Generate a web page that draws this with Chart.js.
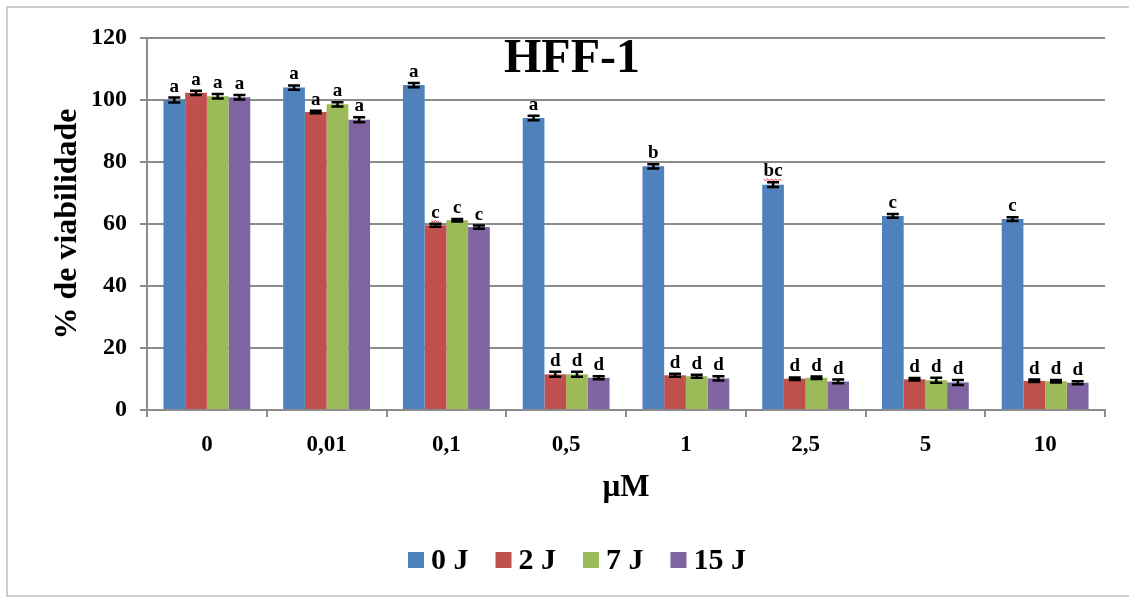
<!DOCTYPE html>
<html>
<head>
<meta charset="utf-8">
<script src="https://cdn.jsdelivr.net/npm/chart.js@4"></script>
<style>
  html, body { margin: 0; padding: 0; background: #fff; }
  #wrap { width: 1129px; height: 599px; position: relative; }
</style>
</head>
<body>
<div id="wrap"><canvas id="myChart"></canvas></div>
<script>
// data
var doses = ['0', '0,01', '0,1', '0,5', '1', '2,5', '5', '10'];
var seriesNames = ['0 J', '2 J', '7 J', '15 J'];
var j0 = [100, 104, 104.8, 94.2, 78.6, 72.7, 62.6, 61.6];
var j2 = [102.3, 96.1, 59.6, 11.5, 11.2, 10.1, 9.9, 9.4];
var j7 = [101.2, 98.6, 61.2, 11.5, 10.9, 10.4, 9.6, 9.3];
var j15 = [100.9, 93.6, 59, 10.4, 10.2, 9.2, 8.9, 8.8];
var err0 = [0.8, 0.7, 0.7, 0.7, 0.7, 0.8, 0.6, 0.6];
var err2 = [0.7, 0.4, 0.5, 0.8, 0.5, 0.4, 0.4, 0.4];
var err7 = [0.7, 0.7, 0.4, 0.8, 0.5, 0.4, 0.8, 0.4];
var err15 = [0.7, 0.8, 0.5, 0.5, 0.7, 0.6, 0.8, 0.5];
var letters0 = ['a', 'a', 'a', 'a', 'b', 'bc', 'c', 'c'];
var letters2 = ['a', 'a', 'c', 'd', 'd', 'd', 'd', 'd'];
var letters7 = ['a', 'a', 'c', 'd', 'd', 'd', 'd', 'd'];
var letters15 = ['a', 'a', 'c', 'd', 'd', 'd', 'd', 'd'];
// letters that carry the red spell-check squiggle: [series, category]
var squiggled = [[0, 5], [1, 2]];
var yTicks = [0, 20, 40, 60, 80, 100, 120];

var colors = ['#4F81BD', '#C0504D', '#9BBB59', '#8064A2'];
var values = [j0, j2, j7, j15];
var errors = [err0, err2, err7, err15];
var letters = [letters0, letters2, letters7, letters15];
var serif = '"Liberation Serif", "Times New Roman", serif';

var datasets = seriesNames.map(function (name, i) {
    return {
        label: name,
        data: values[i],
        backgroundColor: colors[i],
        borderWidth: 0,
        errors: errors[i],
        letters: letters[i],
        categoryPercentage: 0.725,
        barPercentage: 1.0
    };
});

function isSquiggled(i, k) {
    return squiggled.some(function (s) { return s[0] == i && s[1] == k; });
}

// outer frame, title inside the plot, error bars, letters and legend
var extras = {
    id: 'extras',
    beforeDraw: function (chart) {
        var c = chart.ctx;
        c.save();
        c.fillStyle = '#fff';
        c.fillRect(0, 0, chart.width, chart.height);
        c.strokeStyle = '#bdbdbd';
        c.lineWidth = 1.5;
        c.strokeRect(7, 7, chart.width + 20, chart.height - 10);
        c.restore();
    },
    afterDatasetsDraw: function (chart) {
        var c = chart.ctx;
        var y = chart.scales.y;
        c.save();
        chart.data.datasets.forEach(function (ds, i) {
            var meta = chart.getDatasetMeta(i);
            meta.data.forEach(function (bar, k) {
                var v = ds.data[k], e = ds.errors[k];
                var yt = y.getPixelForValue(v + e), yb = y.getPixelForValue(v - e);
                var x = bar.x;
                c.strokeStyle = '#000';
                c.lineWidth = 2.5;
                c.beginPath();
                c.moveTo(x, yt); c.lineTo(x, yb);
                c.moveTo(x - 6, yt); c.lineTo(x + 6, yt);
                c.moveTo(x - 6, yb); c.lineTo(x + 6, yb);
                c.stroke();
                c.fillStyle = '#000';
                c.font = 'bold 19px ' + serif;
                c.textAlign = 'center';
                c.textBaseline = 'alphabetic';
                var ty = yt - 6;
                c.fillText(ds.letters[k], x, ty);
                if (isSquiggled(i, k)) {
                    var w = c.measureText(ds.letters[k]).width;
                    c.strokeStyle = '#e03030';
                    c.lineWidth = 1;
                    c.beginPath();
                    for (var sx = x - w / 2, n = 0; sx <= x + w / 2; sx += 2, n++) {
                        var sy = ty + 3 + (n % 2 ? 1.5 : 0);
                        if (n == 0) c.moveTo(sx, sy); else c.lineTo(sx, sy);
                    }
                    c.stroke();
                }
            });
        });
        c.font = 'bold 48px ' + serif;
        c.textAlign = 'center';
        c.textBaseline = 'middle';
        c.fillStyle = '#000';
        c.fillText('HFF-1', 572, 60);

        // legend
        c.font = 'bold 30px ' + serif;
        c.textBaseline = 'middle';
        c.textAlign = 'left';
        var box = 16, gap = 7, itemGap = 27;
        var items = chart.data.datasets.map(function (ds) {
            return { text: ds.label, color: ds.backgroundColor, w: box + gap + c.measureText(ds.label).width };
        });
        var total = items.reduce(function (s, it) { return s + it.w; }, 0) + itemGap * (items.length - 1);
        var lx = 577 - total / 2, ly = 560;
        items.forEach(function (it) {
            c.fillStyle = it.color;
            c.fillRect(lx, ly - box / 2, box, box);
            c.fillStyle = '#000';
            c.fillText(it.text, lx + box + gap, ly + 1);
            lx += it.w + itemGap;
        });
        c.restore();
    }
};

var ctx = document.getElementById('myChart');
var myChart = new Chart(ctx, {
    type: 'bar',
    data: { labels: doses, datasets: datasets },
    options: {
        responsive: true,
        maintainAspectRatio: false,
        animation: false,
        layout: { padding: { top: 38, right: 24, left: 0, bottom: 89 } },
        plugins: {
            legend: { display: false },
            tooltip: { enabled: false }
        },
        scales: {
            x: {
                grid: {
                    display: true,
                    drawOnChartArea: false,
                    color: '#8c8c8c',
                    lineWidth: 2,
                    tickLength: 7
                },
                border: { color: '#8c8c8c', width: 2 },
                ticks: {
                    color: '#000',
                    font: { family: serif, size: 23, weight: 'bold' },
                    padding: 14
                },
                title: {
                    display: true,
                    text: 'µM',
                    color: '#000',
                    font: { family: serif, size: 31, weight: 'bold' },
                    padding: { top: 0, bottom: 3 }
                },
                afterFit: function (scale) { scale.height = 100; }
            },
            y: {
                min: 0,
                max: 120,
                afterBuildTicks: function (scale) {
                    scale.ticks = yTicks.map(function (v) { return { value: v }; });
                },
                grid: {
                    color: '#8c8c8c',
                    lineWidth: 2,
                    tickLength: 7
                },
                border: { color: '#8c8c8c', width: 2 },
                ticks: {
                    color: '#000',
                    font: { family: serif, size: 24, weight: 'bold' },
                    padding: 13
                },
                title: {
                    display: true,
                    text: '% de viabilidade',
                    color: '#000',
                    font: { family: serif, size: 32, weight: 'bold' },
                    padding: { top: 49, bottom: 0 }
                },
                afterFit: function (scale) { scale.width = 147; }
            }
        }
    },
    plugins: [extras]
});
</script>
</body>
</html>
